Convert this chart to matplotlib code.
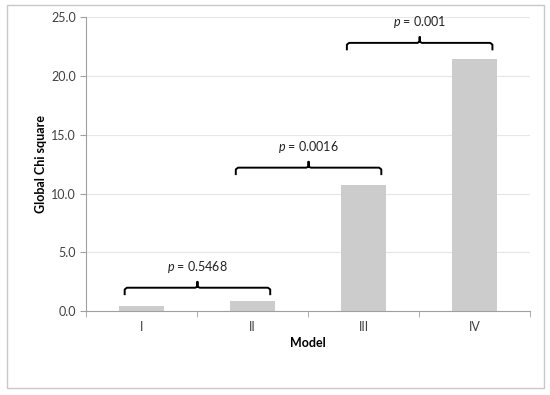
import matplotlib
matplotlib.use("Agg")
import matplotlib.pyplot as plt
from matplotlib.patches import Rectangle

plt.rcParams['font.family'] = ['Lato', 'DejaVu Sans']
plt.rcParams['mathtext.fontset'] = 'custom'
plt.rcParams['mathtext.it'] = 'Lato:italic'
plt.rcParams['mathtext.rm'] = 'Lato'

models = ["I", "II", "III", "IV"]
chi_square = [0.48, 0.87, 10.7, 21.45]

# brackets: (left bar, right bar, height, label)
bracket_pairs = [(0, 1), (1, 2), (2, 3)]
bracket_heights = [2.0, 12.2, 22.8]
bracket_labels = ["0.5468", "0.0016", "0.001"]

FS = 9

fig = plt.figure(figsize=(5.5, 3.95), dpi=100)
ax = fig.add_axes([0.156, 0.212, 0.808, 0.745])

# outer frame
fig.patches.append(Rectangle((0.0127, 0.0177), 0.976, 0.97, transform=fig.transFigure,
                             fill=False, edgecolor="#c8c8c8", linewidth=1.0))

x = list(range(len(models)))
ax.bar(x, chi_square, width=0.4, color="#cccccc", zorder=2)

ax.set_xlim(-0.5, 3.5)
ax.set_ylim(0, 25)
ax.set_yticks([0, 5, 10, 15, 20, 25])
ax.set_yticklabels(["%.1f" % v for v in [0, 5, 10, 15, 20, 25]], fontsize=FS, color="#404040")
ax.set_xticks(x)
ax.set_xticklabels(models, fontsize=FS, color="#404040")
ax.tick_params(axis="x", length=0, pad=7)
ax.set_xticks([-0.5, 0.5, 1.5, 2.5, 3.5], minor=True)
ax.tick_params(axis="x", which="minor", length=4, color="#a0a0a0", direction="out")
ax.tick_params(axis="y", length=4, color="#a0a0a0", direction="out", pad=3)

ax.grid(axis="y", color="#e6e6e6", linewidth=0.8, zorder=0)
for s in ["top", "right"]:
    ax.spines[s].set_visible(False)
ax.spines["left"].set_color("#a0a0a0")
ax.spines["bottom"].set_color("#a0a0a0")

ax.set_ylabel("Global Chi square", fontsize=FS, fontweight="bold", labelpad=3)
ax.set_xlabel("Model", fontsize=FS, fontweight="bold", labelpad=3)

for (a, b), h, lab in zip(bracket_pairs, bracket_heights, bracket_labels):
    x0 = a - 0.15
    x1 = b + 0.16
    xm = (x0 + x1) / 2
    drop = 0.55
    ax.plot([x0, x0, x0 + 0.02, xm - 0.02, xm, xm, xm, xm + 0.02, x1 - 0.02, x1, x1],
            [h - drop, h - 0.15, h, h, h + 0.1, h + 0.5, h + 0.1, h, h, h - 0.15, h - drop],
            color="black", linewidth=1.4, solid_joinstyle="round", zorder=3, clip_on=False)
    ax.text(xm, h + 1.1, r"$\it{p}$ = " + lab, ha="center", va="bottom", fontsize=FS, color="#222222")

fig.savefig("out.png", dpi=100)
